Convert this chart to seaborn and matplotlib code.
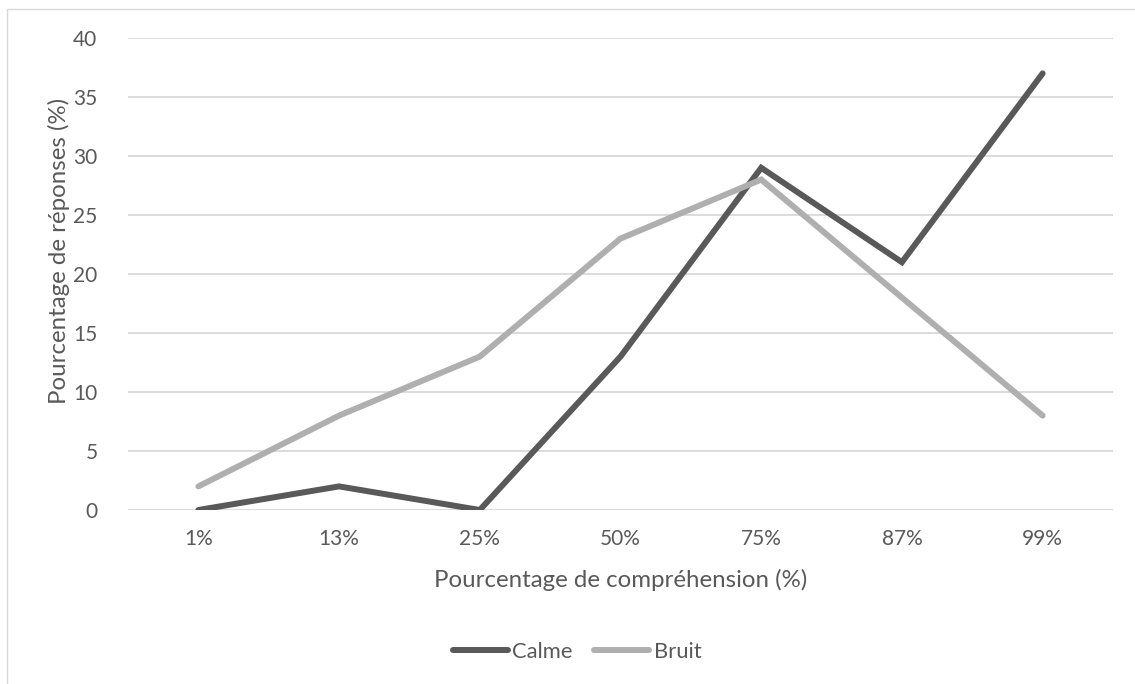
import matplotlib
matplotlib.use("Agg")
import matplotlib.pyplot as plt
from matplotlib.lines import Line2D
from matplotlib.patches import Rectangle
import pandas as pd
import seaborn as sns

# Comprehension levels and share of responses per listening condition
categories = ["1%", "13%", "25%", "50%", "75%", "87%", "99%"]
calme = [0, 2, 0, 13, 29, 21, 37]
bruit = [2, 8, 13, 23, 28, 18, 8]
series_names = ["Calme", "Bruit"]
y_ticks = [0, 5, 10, 15, 20, 25, 30, 35, 40]

sns.set_theme(style="white")
plt.rcParams["font.family"] = ["Lato", "DejaVu Sans"]

W, H = 1135, 684
fig = plt.figure(figsize=(W / 100, H / 100), dpi=100)
ax = fig.add_axes([128 / W, 1 - 510 / H, (1113 - 128) / W, (510 - 38) / H])

df = pd.DataFrame({
    "cat": categories * 2,
    "val": calme + bruit,
    "serie": [series_names[0]] * len(categories) + [series_names[1]] * len(categories),
})
colors = {"Calme": "#595959", "Bruit": "#afafaf"}

sns.lineplot(data=df, x="cat", y="val", hue="serie", palette=colors,
             linewidth=4.3, sort=False, legend=False, ax=ax, zorder=3)
for ln in ax.get_lines():
    ln.set_solid_capstyle("round")
    ln.set_solid_joinstyle("miter")

txt = "#595959"
ax.set_xlim(-0.5, len(categories) - 0.5)
ax.set_ylim(0, 40)
ax.set_yticks(y_ticks)
ax.grid(axis="y", color="#d9d9d9", linewidth=1.3)
ax.grid(axis="x", visible=False)
for s in ax.spines.values():
    s.set_visible(False)
ax.tick_params(axis="both", length=0, labelsize=15, labelcolor=txt)
ax.tick_params(axis="y", pad=22)
ax.tick_params(axis="x", pad=14)

ax.set_xlabel("Pourcentage de compréhension (%)", fontsize=17.3, color=txt)
ax.set_ylabel("Pourcentage de réponses (%)", fontsize=17.3, color=txt)
ax.xaxis.set_label_coords(0.5, (510 - 580) / 472)
ax.yaxis.set_label_coords((59 - 128) / 985, (510 - 251) / 472)
ax.xaxis.label.set_va("center")
ax.yaxis.label.set_va("center")

handles = [Line2D([0], [0], color=colors[n], linewidth=4.3, solid_capstyle="round")
           for n in series_names]
fig.legend(handles, series_names, loc="center", ncol=2, frameon=False,
           bbox_to_anchor=(577 / W, 1 - 652 / H), fontsize=15.8, labelcolor=txt,
           handlelength=2.5, handletextpad=0.2, columnspacing=1.0)

# chart frame
fig.patches.append(Rectangle((7 / W, -0.1), 1.2, 1 - 9 / H + 0.1,
                             transform=fig.transFigure, fill=False,
                             edgecolor="#d9d9d9", linewidth=1.0))

fig.savefig("out.png", dpi=100)
